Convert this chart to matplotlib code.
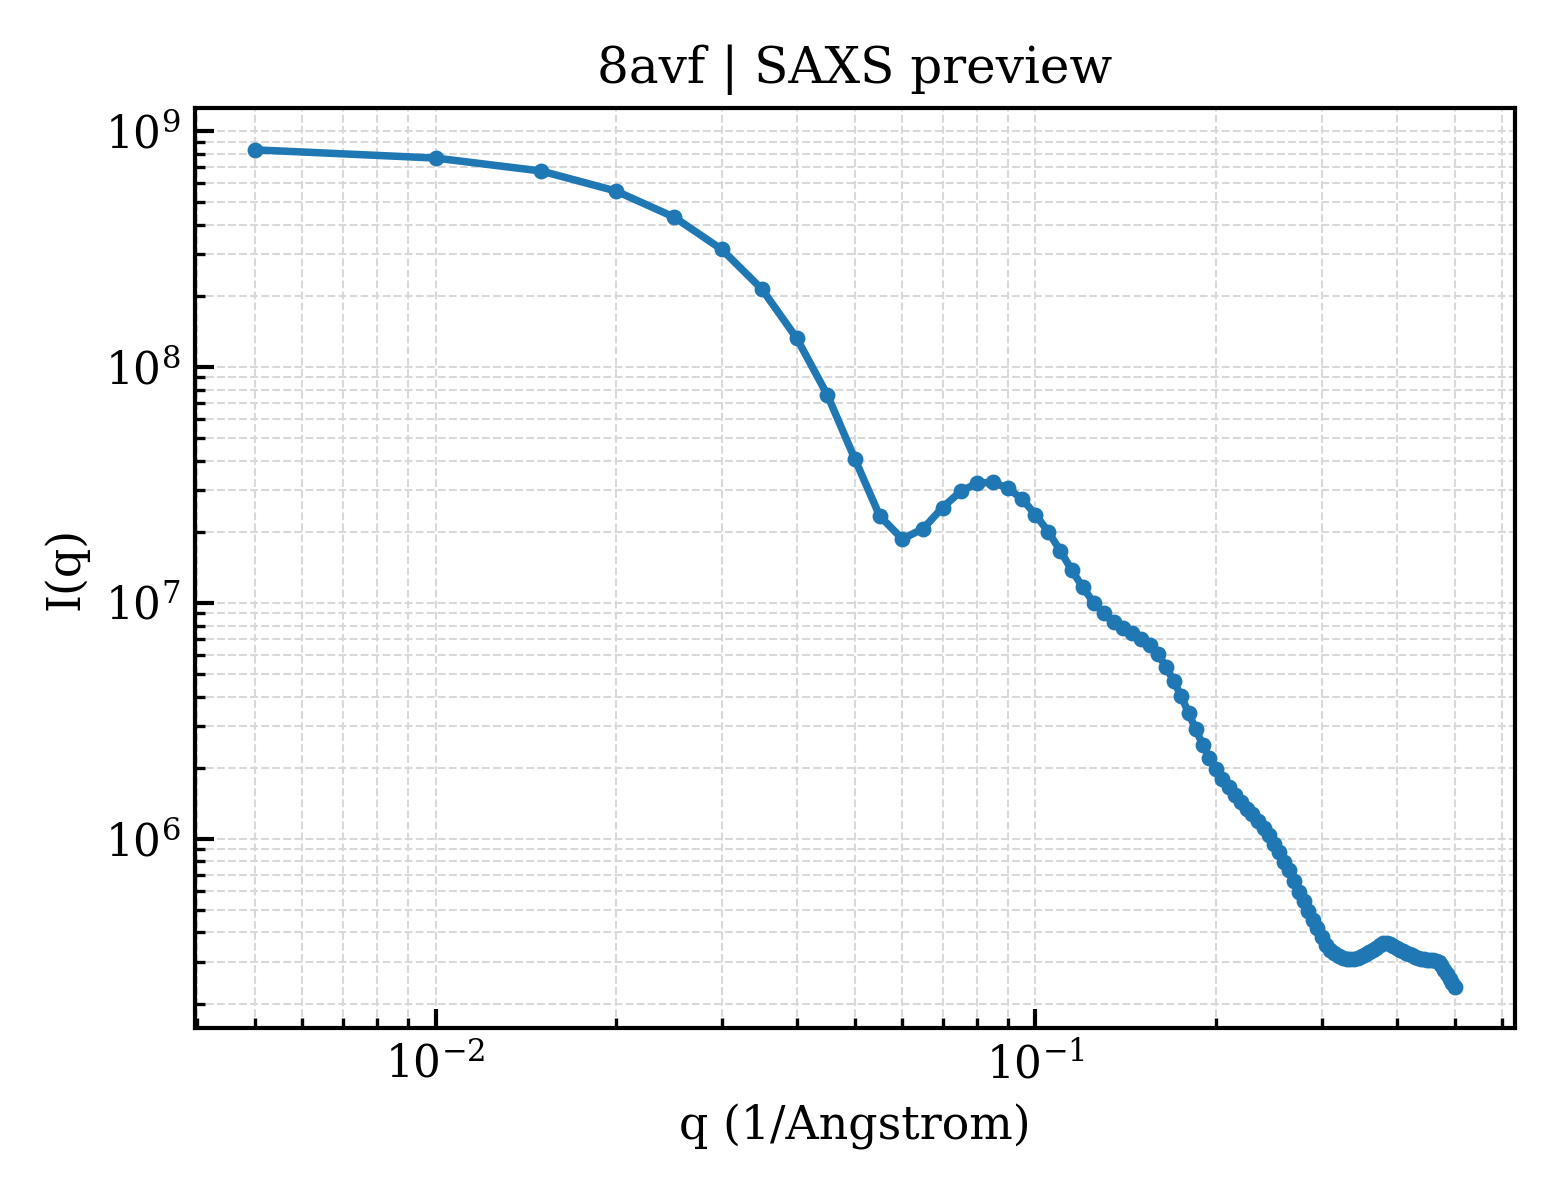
import numpy as np
import matplotlib
matplotlib.use("Agg")
import matplotlib.pyplot as plt

title = "8avf | SAXS preview"
x_label = "q (1/Angstrom)"
y_label = "I(q)"

q = [0.005, 0.010, 0.015, 0.020, 0.025, 0.030, 0.035, 0.040, 0.045, 0.050,
     0.055, 0.060, 0.065, 0.070, 0.075, 0.080, 0.085, 0.090, 0.095, 0.100,
     0.105, 0.110, 0.115, 0.120, 0.125, 0.130, 0.135, 0.140, 0.145, 0.150,
     0.155, 0.160, 0.165, 0.170, 0.175, 0.180, 0.185, 0.190, 0.195, 0.200,
     0.205, 0.210, 0.215, 0.220, 0.225, 0.230, 0.235, 0.240, 0.245, 0.250,
     0.255, 0.260, 0.265, 0.270, 0.275, 0.280, 0.285, 0.290, 0.295, 0.300,
     0.305, 0.310, 0.315, 0.320, 0.325, 0.330, 0.335, 0.340, 0.345, 0.350,
     0.355, 0.360, 0.365, 0.370, 0.375, 0.380, 0.385, 0.390, 0.395, 0.400,
     0.405, 0.410, 0.415, 0.420, 0.425, 0.430, 0.435, 0.440, 0.445, 0.450,
     0.455, 0.460, 0.465, 0.470, 0.475, 0.480, 0.485, 0.490, 0.495, 0.500]

intensity = [8.30e8, 7.66e8, 6.75e8, 5.55e8, 4.30e8, 3.14e8, 2.13e8, 1.32e8, 7.58e7, 4.06e7,
             2.33e7, 1.86e7, 2.06e7, 2.53e7, 2.96e7, 3.21e7, 3.24e7, 3.05e7, 2.75e7, 2.36e7,
             2.00e7, 1.66e7, 1.37e7, 1.16e7, 1.00e7, 9.02e6, 8.31e6, 7.84e6, 7.47e6, 7.04e6,
             6.60e6, 6.04e6, 5.36e6, 4.65e6, 4.02e6, 3.40e6, 2.91e6, 2.50e6, 2.20e6, 1.97e6,
             1.79e6, 1.65e6, 1.53e6, 1.43e6, 1.34e6, 1.27e6, 1.19e6, 1.11e6, 1.04e6, 9.53e5,
             8.76e5, 7.99e5, 7.36e5, 6.63e5, 5.93e5, 5.42e5, 4.95e5, 4.54e5, 4.18e5, 3.81e5,
             3.55e5, 3.38e5, 3.27e5, 3.18e5, 3.12e5, 3.09e5, 3.08e5, 3.08e5, 3.12e5, 3.18e5,
             3.24e5, 3.30e5, 3.37e5, 3.45e5, 3.54e5, 3.61e5, 3.61e5, 3.57e5, 3.50e5, 3.44e5,
             3.38e5, 3.34e5, 3.27e5, 3.24e5, 3.20e5, 3.16e5, 3.13e5, 3.10e5, 3.08e5, 3.07e5,
             3.06e5, 3.05e5, 3.04e5, 3.00e5, 2.91e5, 2.78e5, 2.68e5, 2.55e5, 2.45e5, 2.36e5]

plt.rcParams["font.family"] = ["DejaVu Serif"]
plt.rcParams["mathtext.fontset"] = "dejavuserif"

fig, ax = plt.subplots(figsize=(5.2, 4.0), dpi=300)
fig.subplots_adjust(left=0.125, right=0.971, top=0.91, bottom=0.143)

ax.plot(q, intensity, "-o", color="#1f77b4", lw=1.8, ms=2.8)
ax.set_xscale("log")
ax.set_yscale("log")

ax.grid(True, which="both", ls="--", lw=0.5, color="0.85")
ax.set_axisbelow(True)

for s in ax.spines.values():
    s.set_linewidth(1.0)
ax.tick_params(which="both", direction="in", top=False, right=False, labelsize=10.5)
ax.tick_params(which="major", length=4.5, width=1.0)
ax.tick_params(which="minor", length=2.5, width=0.8)

ax.set_xlabel(x_label, fontsize=11)
ax.set_ylabel(y_label, fontsize=11)
ax.set_title(title, fontsize=12)

fig.savefig("out.png", dpi=300)
